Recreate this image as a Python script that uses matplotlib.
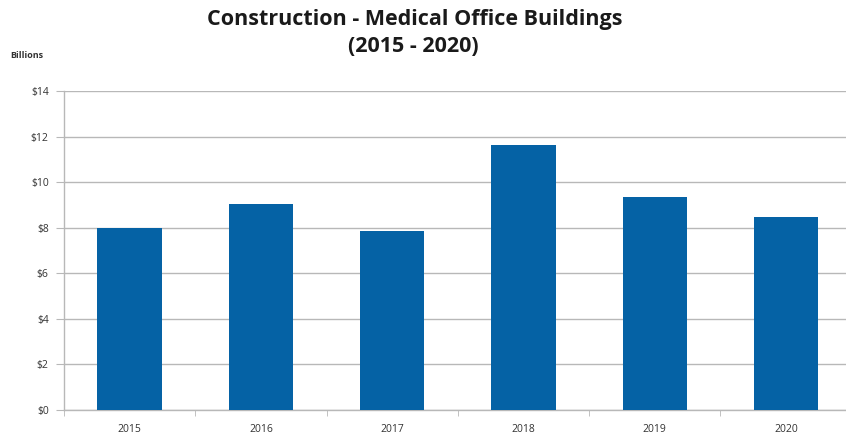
import numpy as np
import matplotlib.pyplot as plt
from matplotlib.ticker import FixedLocator

years = ["2015", "2016", "2017", "2018", "2019", "2020"]
spending = [8.0, 9.05, 7.85, 11.65, 9.35, 8.45]  # billions of dollars
yticks = [0, 2, 4, 6, 8, 10, 12, 14]

plt.rcParams['font.family'] = ['Open Sans', 'DejaVu Sans']

fig = plt.figure(figsize=(8.46, 4.41), dpi=100)
ax = fig.add_axes([64 / 846, 1 - 410 / 441, 1 - 64 / 846, (410 - 91) / 441])

x = np.arange(len(years))
ax.bar(x, spending, width=0.49, color="#0562a5", zorder=3)

ax.set_xlim(-0.5, 5.457)
ax.set_ylim(0, 14)
ax.set_yticks(yticks)
ax.set_yticklabels([f"${v}" for v in yticks], fontsize=7.5, color="#333333")
ax.set_xticks(x)
ax.set_xticklabels(years, fontsize=7.5, color="#333333")
ax.xaxis.set_minor_locator(FixedLocator(np.arange(-0.5, 6, 1.0)))

ax.grid(axis="y", color="#b8b8b8", linewidth=1.0, zorder=0)
for side in ("top", "right"):
    ax.spines[side].set_visible(False)
for side in ("left", "bottom"):
    ax.spines[side].set_color("#b8b8b8")
    ax.spines[side].set_linewidth(1.0)

ax.tick_params(axis="y", length=6, color="#b8b8b8", pad=5)
ax.tick_params(axis="x", which="major", length=0, pad=10)
ax.tick_params(axis="x", which="minor", length=4, color="#b8b8b8")

fig.text(415 / 846, 1 - 19 / 441, "Construction - Medical Office Buildings",
         ha="center", va="center", fontsize=15.5, fontweight="bold", color="#1a1a1a")
fig.text(413 / 846, 1 - 47 / 441, "(2015 - 2020)",
         ha="center", va="center", fontsize=15.5, fontweight="bold", color="#1a1a1a")
fig.text(10 / 846, 1 - 55 / 441, "Billions", ha="left", va="center",
         fontsize=6.5, fontweight="bold", color="#333333")

fig.savefig("out.png", dpi=100)
